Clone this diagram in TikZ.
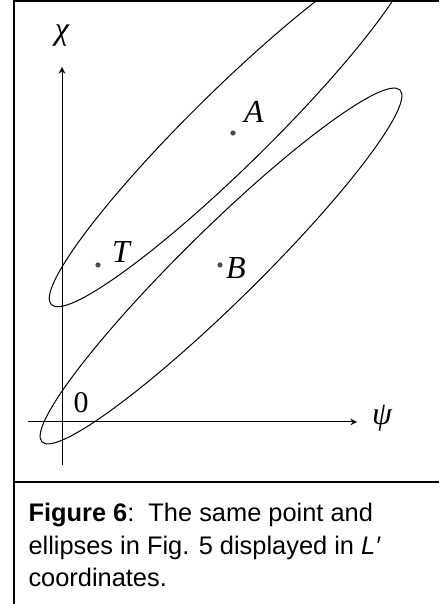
\documentclass[tikz,border=0pt]{standalone}
\usepackage{fontspec}
\setmainfont{Liberation Sans}
\newfontfamily\timesfont{Liberation Serif}
\usepackage{tikz}
\usetikzlibrary{calc}

\begin{document}
\begin{tikzpicture}[x=0.5pt, y=0.5pt, >=stealth, line width=0.5pt,
    dot/.style={circle, fill=black!70, inner sep=0pt, minimum size=2.6pt},
    lbl/.style={inner sep=0pt, font=\timesfont\itshape\fontsize{16}{16}\selectfont},
    captxt/.style={anchor=base west, inner sep=0pt, font=\fontsize{12.7}{16}\selectfont}]
    % Khung của hình
    \useasboundingbox (0,0) rectangle (439,604);
    \draw[line width=1pt] (14,0) -- (14,603) -- (439,603);
    \draw[line width=1pt] (14,121.5) -- (439,121.5);

    % Hai trục toạ độ
    \coordinate (psi0) at (28,182);
    \coordinate (psi1) at (357,182);
    \coordinate (chi0) at (62,139);
    \coordinate (chi1) at (62,537);
    \draw[->] (psi0) -- (psi1);
    \draw[->] (chi0) -- (chi1);
    \node[lbl] (chi) at (62,568) {χ};
    \node[lbl] (psi) at (382,186) {ψ};
    \node[inner sep=0pt, font=\timesfont\fontsize{15}{15}\selectfont] (zero) at (81,201) {0};

    % Các điểm A, T, B
    \node[dot] (A) at (233,471) {};
    \node[dot] (T) at (98,339) {};
    \node[dot] (B) at (220,339) {};
    \node[lbl] (labA) at (254,492) {A};
    \node[lbl] (labT) at (121,352) {T};
    \node[lbl] (labB) at (236,336) {B};

    % Hai ellipse, cắt theo khung
    \begin{scope}
        \clip (14,0) rectangle (439,603);
        \draw[shift={(231,476)}, rotate=44.5] (0,0) ellipse [x radius=252, y radius=38.5];
        \draw[shift={(221,338)}, rotate=44.5] (0,0) ellipse [x radius=251, y radius=37];
    \end{scope}

    % Chú thích
    \node[captxt] (cap1) at (28,82.3) {\textbf{Figure 6}:\ \ The same point and};
    \node[captxt] (cap2) at (28,49) {ellipses in Fig. 5 displayed in \textit{L′}};
    \node[captxt] (cap3) at (28,17.3) {coordinates.};
\end{tikzpicture}
\end{document}
